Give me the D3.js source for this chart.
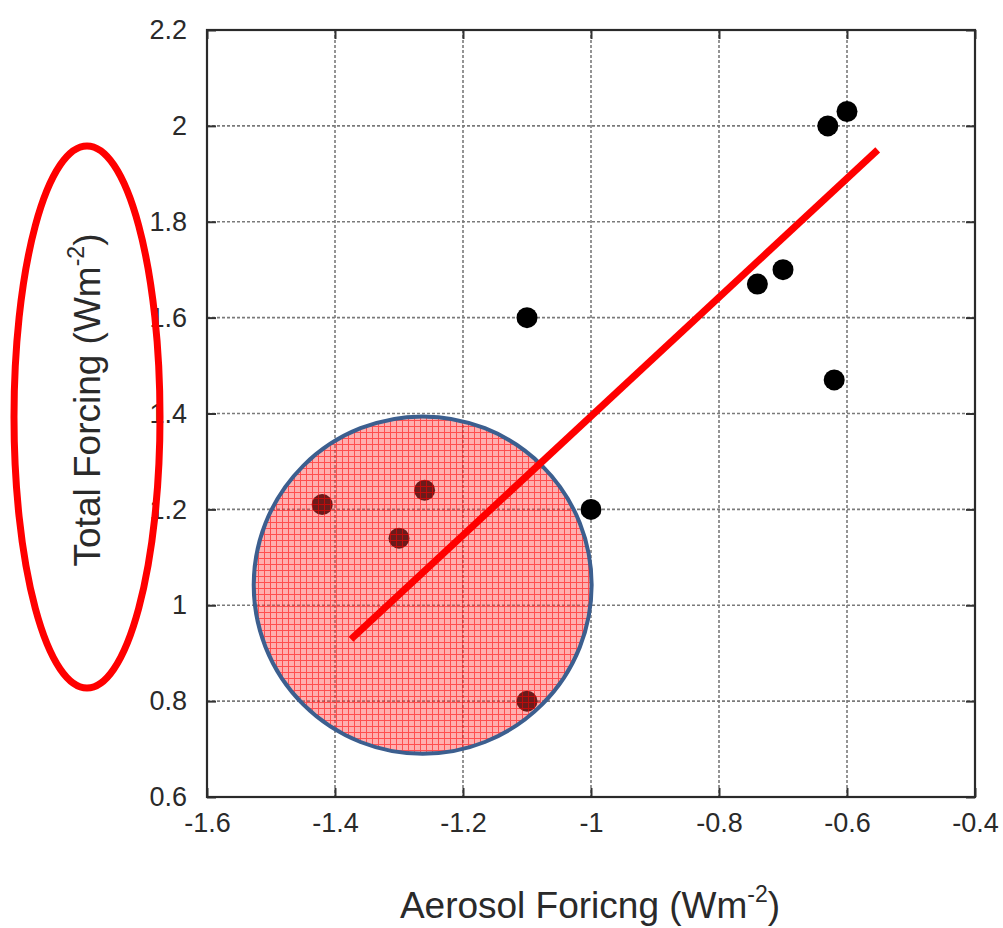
<!DOCTYPE html>
<html>
<head>
<meta charset="utf-8">
<script src="https://cdn.jsdelivr.net/npm/d3@7"></script>
<style>
  html, body { margin: 0; padding: 0; background: #fff; }
  svg { display: block; }
  text { font-family: "Liberation Sans", Arial, Helvetica, sans-serif; fill: #2a2a2a; }
</style>
</head>
<body>
<svg id="chart" width="1003" height="928"></svg>
<script>
// ---- data ----
const aerosolForcing = [-0.60, -0.63, -0.74, -0.70, -0.62, -1.10, -1.00, -1.42, -1.26, -1.30, -1.10];
const totalForcing   = [ 2.03,  2.00,  1.67,  1.70,  1.47,  1.60,  1.20,  1.21,  1.24,  1.14,  0.80];
const xTicks = [-1.6, -1.4, -1.2, -1, -0.8, -0.6, -0.4];
const yTicks = [0.6, 0.8, 1, 1.2, 1.4, 1.6, 1.8, 2, 2.2];
const trendX = [-1.375, -0.552];
const trendY = [0.929, 1.95];
const highlightCenter = [-1.263, 1.042];
const highlightRadius = [0.264, 0.352]; // data units (x, y)

const svg = d3.select("#chart");
const x = d3.scaleLinear().domain([-1.6, -0.4]).range([207, 975]);
const y = d3.scaleLinear().domain([0.6, 2.2]).range([797, 30]);
const fmt = d => String(+d.toFixed(1));

// pattern for highlight circle
const defs = svg.append("defs");
const pat = defs.append("pattern").attr("id", "hatch").attr("patternUnits", "userSpaceOnUse")
  .attr("width", 6).attr("height", 6);
pat.append("rect").attr("width", 6).attr("height", 6).attr("fill", "#ff4040").attr("opacity", 0.42);
pat.append("path").attr("d", "M0,0.5H6M0.5,0V6").attr("stroke", "#ff0000").attr("stroke-width", 1).attr("opacity", 0.55);

// grid
const grid = svg.append("g");
grid.selectAll("line.gx").data(xTicks.slice(1, -1)).join("line")
  .attr("x1", d => x(d)).attr("x2", d => x(d)).attr("y1", y(2.2)).attr("y2", y(0.6))
  .attr("stroke", "#7a7a7a").attr("stroke-width", 1.6).attr("stroke-dasharray", "3,2");
grid.selectAll("line.gy").data(yTicks.slice(1, -1)).join("line")
  .attr("y1", d => y(d)).attr("y2", d => y(d)).attr("x1", x(-1.6)).attr("x2", x(-0.4))
  .attr("stroke", "#7a7a7a").attr("stroke-width", 1.6).attr("stroke-dasharray", "3,2");

// axes via d3 (inward ticks)
const xAxis = svg.append("g").attr("transform", `translate(0,${y(0.6)})`)
  .call(d3.axisBottom(x).tickValues(xTicks).tickFormat(fmt).tickSize(-9).tickPadding(16));
const xAxisTop = svg.append("g").attr("transform", `translate(0,${y(2.2)})`)
  .call(d3.axisTop(x).tickValues(xTicks).tickFormat("").tickSize(-9));
const yAxis = svg.append("g").attr("transform", `translate(${x(-1.6)},0)`)
  .call(d3.axisLeft(y).tickValues(yTicks).tickFormat(fmt).tickSize(-9).tickPadding(20));
const yAxisR = svg.append("g").attr("transform", `translate(${x(-0.4)},0)`)
  .call(d3.axisRight(y).tickValues(yTicks).tickFormat("").tickSize(-9));
[xAxis, xAxisTop, yAxis, yAxisR].forEach(g => {
  g.select(".domain").remove();
  g.selectAll(".tick line").attr("stroke", "#333").attr("stroke-width", 2);
  g.selectAll("text").attr("font-size", 27).attr("fill", "#2a2a2a")
    .style("font-family", "'Liberation Sans', Arial, sans-serif");
});

// frame
svg.append("rect").attr("x", x(-1.6)).attr("y", y(2.2))
  .attr("width", x(-0.4) - x(-1.6)).attr("height", y(0.6) - y(2.2))
  .attr("fill", "none").attr("stroke", "#2a2a2a").attr("stroke-width", 2.2);

// points
const pts = aerosolForcing.map((a, i) => [a, totalForcing[i]]);
svg.append("g").selectAll("circle").data(pts).join("circle")
  .attr("cx", d => x(d[0])).attr("cy", d => y(d[1])).attr("r", 10.5).attr("fill", "#000");

// highlight circle
svg.append("ellipse")
  .attr("cx", x(highlightCenter[0])).attr("cy", y(highlightCenter[1]))
  .attr("rx", x(highlightCenter[0] + highlightRadius[0]) - x(highlightCenter[0]))
  .attr("ry", y(highlightCenter[1]) - y(highlightCenter[1] + highlightRadius[1]))
  .attr("fill", "url(#hatch)").attr("stroke", "#3c5f8f").attr("stroke-width", 4);

// trend line
svg.append("line")
  .attr("x1", x(trendX[0])).attr("y1", y(trendY[0]))
  .attr("x2", x(trendX[1])).attr("y2", y(trendY[1]))
  .attr("stroke", "#ff0000").attr("stroke-width", 7);

// axis titles
const xt = svg.append("text").attr("x", 590).attr("y", 918).attr("text-anchor", "middle")
  .attr("font-size", 37).attr("fill", "#2a2a2a");
xt.append("tspan").text("Aerosol Foricng (Wm");
xt.append("tspan").attr("dy", -16).attr("font-size", 23).text("-2");
xt.append("tspan").attr("dy", 16).text(")");

const yt = svg.append("text").attr("transform", "translate(100,400) rotate(-90)").attr("text-anchor", "middle")
  .attr("font-size", 37).attr("fill", "#2a2a2a");
yt.append("tspan").text("Total Forcing (Wm");
yt.append("tspan").attr("dy", -16).attr("font-size", 23).text("-2");
yt.append("tspan").attr("dy", 16).text(")");

// red ellipse annotation around y title
svg.append("ellipse").attr("cx", 87).attr("cy", 417).attr("rx", 73).attr("ry", 271)
  .attr("fill", "none").attr("stroke", "#ff0000").attr("stroke-width", 7);
</script>
</body>
</html>
